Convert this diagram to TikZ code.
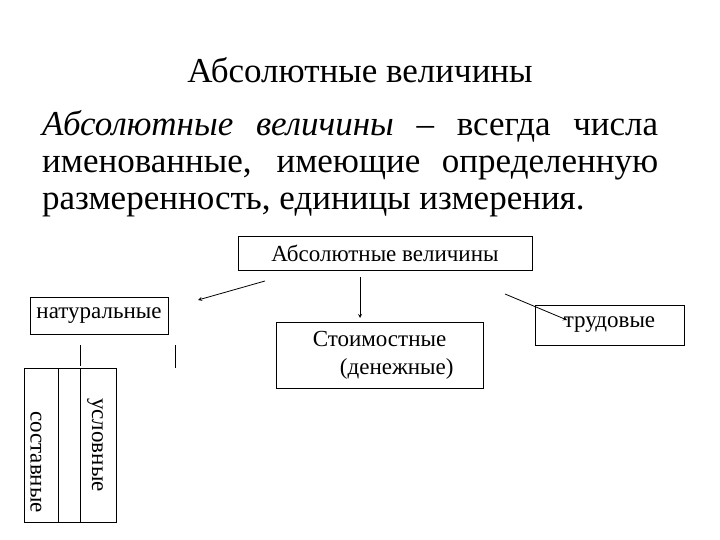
\documentclass[tikz,border=0pt]{standalone}
\usepackage{fontspec}
\setmainfont{Liberation Serif}[ItalicFont={Liberation Serif Italic}]
\begin{document}
\begin{tikzpicture}[x=1pt,y=-1pt,
 bx/.style={draw,thick,inner sep=0pt,font=\fontsize{23}{28}\selectfont},
 ar/.style={-stealth,thick},
 ln/.style={thin}]
\useasboundingbox (0,0) rectangle (720,540);
\node[font=\fontsize{35}{40}\selectfont] (title) at (360,70) {Абсолютные величины};
\node[text width=616pt,align=justify,inner sep=0pt,anchor=north west,font=\fontsize{35}{37}\selectfont] (para) at (42,110)
 {\textit{Абсолютные величины} – всегда числа\linebreak именованные, имеющие определенную\linebreak размеренность, единицы измерения.\par};
\node[bx,minimum width=294pt,minimum height=34pt] (abs) at (385,253) {Абсолютные величины};
\node[bx,minimum width=138pt,minimum height=37pt] (nat) at (99,316) {натуральные};
\node[bx,minimum width=207pt,minimum height=66pt,align=center] (cost) at (379.5,355) {Стоимостные\\ \hspace{1.5em}(денежные)};
\node[bx,minimum width=149pt,minimum height=40pt] (trud) at (609.5,325) {трудовые};
\coordinate (a1s) at (265,281); \coordinate (a1e) at (198,300);
\coordinate (a2s) at (360,277); \coordinate (a2e) at (360,318);
\coordinate (a3s) at (505,294); \coordinate (a3e) at (567,320);
\draw[ar] (a1s) -- (a1e);
\draw[ar] (a2s) -- (a2e);
\draw[ar] (a3s) -- (a3e);
\coordinate (l1a) at (80,345); \coordinate (l1b) at (80,366);
\coordinate (l2a) at (175,345); \coordinate (l2b) at (175,368);
\draw[ln] (l1a) -- (l1b);
\draw[ln] (l2a) -- (l2b);
\node[bx,minimum width=92pt,minimum height=154pt] (grp) at (70,445) {};
\coordinate (v1a) at (58,368); \coordinate (v1b) at (58,522);
\coordinate (v2a) at (80,368); \coordinate (v2b) at (80,522);
\draw[ln] (v1a) -- (v1b);
\draw[ln] (v2a) -- (v2b);
\node[rotate=-90,font=\fontsize{23}{28}\selectfont] (sost) at (36,462) {составные};
\node[rotate=-90,font=\fontsize{23}{28}\selectfont] (usl) at (95,445) {условные};
\end{tikzpicture}
\end{document}
